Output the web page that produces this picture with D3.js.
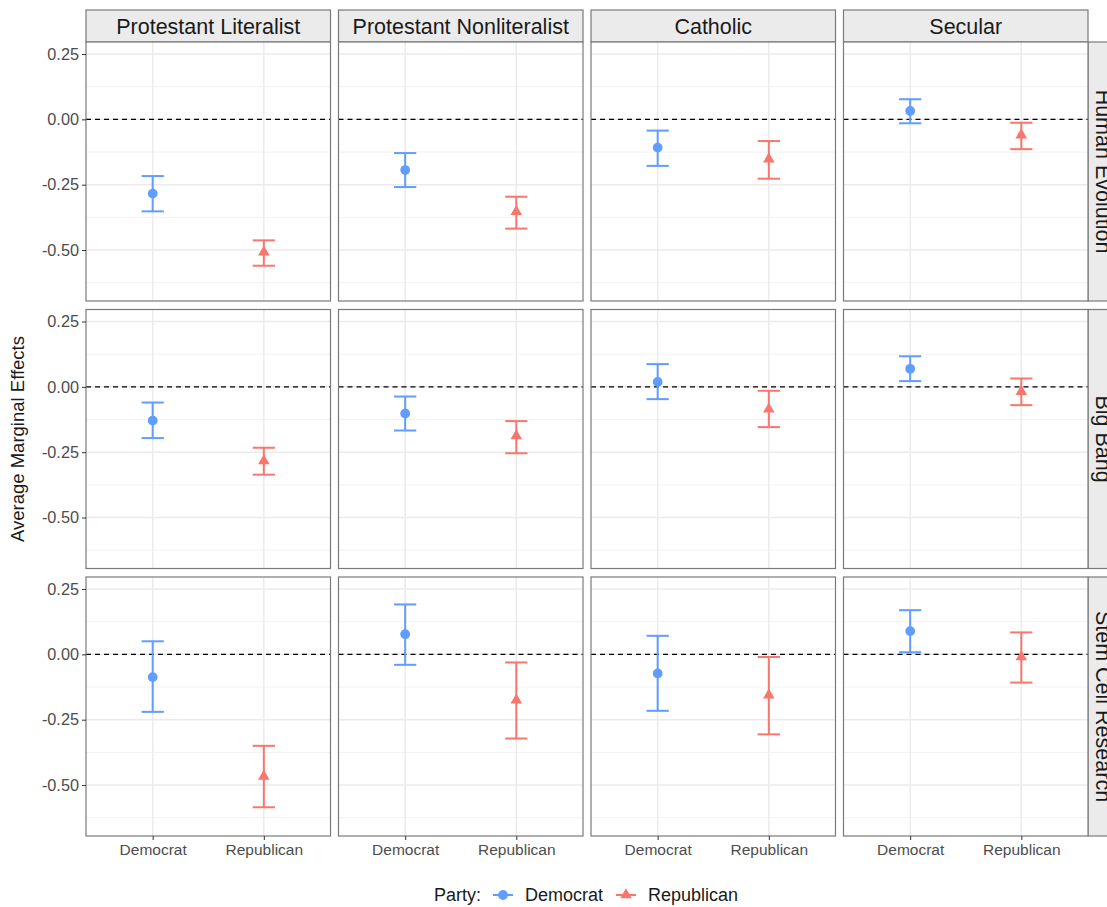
<!DOCTYPE html>
<html>
<head>
<meta charset="utf-8">
<script src="https://cdn.jsdelivr.net/npm/d3@7"></script>
<style>
  body { margin: 0; background: #fff; overflow: hidden; }
  svg { display: block; font-family: "Liberation Sans", Arial, sans-serif; }
</style>
</head>
<body>
<div id="chart"></div>
<script>
// Facets
const religions = ["Protestant Literalist", "Protestant Nonliteralist", "Catholic", "Secular"];
const issues = ["Human Evolution", "Big Bang", "Stem Cell Research"];
const parties = ["Democrat", "Republican"];
const yTicks = [0.25, 0, -0.25, -0.5];
const yMinor = [0.125, -0.125, -0.375, -0.625];

// One row per issue, one value per religion
const demEst  = [[-0.284, -0.194, -0.108, 0.032], [-0.129, -0.102, 0.019, 0.069], [-0.087, 0.077, -0.073, 0.089]];
const demLow  = [[-0.352, -0.259, -0.178, -0.015], [-0.196, -0.167, -0.047, 0.022], [-0.220, -0.040, -0.216, 0.008]];
const demHigh = [[-0.217, -0.129, -0.043, 0.077], [-0.060, -0.037, 0.087, 0.117], [0.050, 0.191, 0.071, 0.169]];
const repEst  = [[-0.508, -0.353, -0.152, -0.060], [-0.283, -0.188, -0.085, -0.018], [-0.467, -0.175, -0.156, -0.010]];
const repLow  = [[-0.560, -0.418, -0.227, -0.114], [-0.336, -0.254, -0.154, -0.070], [-0.585, -0.322, -0.306, -0.108]];
const repHigh = [[-0.463, -0.296, -0.083, -0.013], [-0.233, -0.131, -0.015, 0.032], [-0.350, -0.031, -0.010, 0.084]];

function chart_all(container) {
    const width = 1107;
    const height = 907;

    // panel grid geometry
    const panelLeft = 86, panelW = 244.5, gapX = 8;
    const stripTop = 10, stripH = 32;
    const panelTop = stripTop + stripH, panelH = 259, gapY = 8.5;

    const color = d3.scaleOrdinal().domain(parties).range(["#619CFF", "#F8766D"]);

    const x = d3.scalePoint().domain(parties).range([0, panelW]).padding(0.6);
    const y = d3.scaleLinear().domain([-0.695, 0.296]).range([panelH, 0]);
    const capHalf = x.step() * 0.1;

    const svg = d3.select(container).append("svg")
        .attr("width", width)
        .attr("height", height)
        .attr("viewBox", [0, 0, width, height]);

    // build rows of points from the arrays
    const points = [];
    issues.forEach((issue, r) => {
        religions.forEach((rel, c) => {
            points.push({r, c, party: "Democrat", est: demEst[r][c], lo: demLow[r][c], hi: demHigh[r][c]});
            points.push({r, c, party: "Republican", est: repEst[r][c], lo: repLow[r][c], hi: repHigh[r][c]});
        });
    });

    const colX = c => panelLeft + c * (panelW + gapX);
    const rowY = r => panelTop + r * (panelH + gapY);

    // top strips
    religions.forEach((rel, c) => {
        const s = svg.append("g").attr("transform", `translate(${colX(c)},${stripTop})`);
        s.append("rect").attr("width", panelW).attr("height", stripH)
            .attr("fill", "#EBEBEB").attr("stroke", "#7a7a7a").attr("stroke-width", 1.2);
        s.append("text").attr("x", panelW / 2).attr("y", stripH / 2).attr("dy", "0.36em")
            .attr("text-anchor", "middle").attr("font-size", 21.5).attr("fill", "#1A1A1A")
            .text(rel);
    });

    // right strips (run past the picture's right edge, as in the original)
    const rightX = colX(religions.length - 1) + panelW;
    issues.forEach((issue, r) => {
        const s = svg.append("g").attr("transform", `translate(${rightX},${rowY(r)})`);
        s.append("rect").attr("width", stripH).attr("height", panelH)
            .attr("fill", "#EBEBEB").attr("stroke", "#7a7a7a").attr("stroke-width", 1.2);
        s.append("text")
            .attr("transform", `translate(${stripH / 2},${panelH / 2}) rotate(90)`)
            .attr("dy", "0.36em").attr("text-anchor", "middle")
            .attr("font-size", 21.5).attr("fill", "#1A1A1A")
            .text(issue);
    });

    // panels
    issues.forEach((issue, r) => {
        religions.forEach((rel, c) => {
            const g = svg.append("g").attr("transform", `translate(${colX(c)},${rowY(r)})`);

            g.append("rect").attr("width", panelW).attr("height", panelH).attr("fill", "#fff");

            // grid
            g.selectAll(".minor").data(yMinor).join("line")
                .attr("x2", panelW).attr("y1", d => y(d)).attr("y2", d => y(d))
                .attr("stroke", "#F2F2F2").attr("stroke-width", 1);
            g.selectAll(".major").data(yTicks).join("line")
                .attr("x2", panelW).attr("y1", d => y(d)).attr("y2", d => y(d))
                .attr("stroke", "#EBEBEB").attr("stroke-width", 1.5);
            g.selectAll(".vmajor").data(parties).join("line")
                .attr("x1", d => x(d)).attr("x2", d => x(d)).attr("y2", panelH)
                .attr("stroke", "#EBEBEB").attr("stroke-width", 1.5);

            // reference line at zero
            g.append("line").attr("x2", panelW).attr("y1", y(0)).attr("y2", y(0))
                .attr("stroke", "#000").attr("stroke-width", 1.3).attr("stroke-dasharray", "5,4");

            const pts = points.filter(d => d.r === r && d.c === c);
            const eb = g.selectAll(".eb").data(pts).join("g")
                .attr("stroke", d => color(d.party)).attr("stroke-width", 2);
            eb.append("line").attr("x1", d => x(d.party)).attr("x2", d => x(d.party))
                .attr("y1", d => y(d.lo)).attr("y2", d => y(d.hi));
            eb.append("line").attr("x1", d => x(d.party) - capHalf).attr("x2", d => x(d.party) + capHalf)
                .attr("y1", d => y(d.lo)).attr("y2", d => y(d.lo));
            eb.append("line").attr("x1", d => x(d.party) - capHalf).attr("x2", d => x(d.party) + capHalf)
                .attr("y1", d => y(d.hi)).attr("y2", d => y(d.hi));

            g.selectAll(".pt").data(pts).join("path")
                .attr("transform", d => `translate(${x(d.party)},${y(d.est)})`)
                .attr("d", d => d3.symbol(d.party === "Democrat" ? d3.symbolCircle : d3.symbolTriangle,
                    d.party === "Democrat" ? 75 : 58)())
                .attr("fill", d => color(d.party));

            g.append("rect").attr("width", panelW).attr("height", panelH)
                .attr("fill", "none").attr("stroke", "#7a7a7a").attr("stroke-width", 1.2);

            // y axis on first column
            if (c === 0) {
                g.append("g")
                    .call(d3.axisLeft(y).tickValues(yTicks).tickFormat(d3.format(".2f")).tickSize(4).tickPadding(3))
                    .call(a => a.select(".domain").remove())
                    .call(a => a.selectAll(".tick line").attr("stroke", "#333"))
                    .call(a => a.selectAll("text").attr("font-size", 16.3).attr("fill", "#4D4D4D")
                        .attr("font-family", "Liberation Sans, Arial, sans-serif")
                        .text(d => d3.format(".2f")(d).replace("−", "-")));
            }
            // x axis on bottom row
            if (r === issues.length - 1) {
                g.append("g").attr("transform", `translate(0,${panelH})`)
                    .call(d3.axisBottom(x).tickSize(4).tickPadding(4))
                    .call(a => a.select(".domain").remove())
                    .call(a => a.selectAll(".tick line").attr("stroke", "#333"))
                    .call(a => a.selectAll("text").attr("font-size", 15.5).attr("fill", "#4D4D4D")
                        .attr("font-family", "Liberation Sans, Arial, sans-serif"));
            }
        });
    });

    // y axis title
    svg.append("text")
        .attr("transform", `translate(24,${rowY(1) + panelH / 2}) rotate(-90)`)
        .attr("text-anchor", "middle").attr("font-size", 18.5).attr("fill", "#1A1A1A")
        .text("Average Marginal Effects");

    // legend
    const legend = svg.append("g").attr("transform", "translate(434,895)");
    legend.append("text").attr("dy", "0.36em").attr("font-size", 18).attr("fill", "#1A1A1A").text("Party:");
    const keys = [{party: "Democrat", kx: 59}, {party: "Republican", kx: 182}];
    keys.forEach(k => {
        legend.append("line").attr("x1", k.kx).attr("x2", k.kx + 20)
            .attr("stroke", color(k.party)).attr("stroke-width", 2);
        legend.append("path").attr("transform", `translate(${k.kx + 10},0)`)
            .attr("d", d3.symbol(k.party === "Democrat" ? d3.symbolCircle : d3.symbolTriangle,
                k.party === "Democrat" ? 75 : 58)())
            .attr("fill", color(k.party));
        legend.append("text").attr("x", k.kx + 32).attr("dy", "0.36em")
            .attr("font-size", 18).attr("fill", "#1A1A1A").text(k.party);
    });
}

chart_all("#chart");
</script>
</body>
</html>
